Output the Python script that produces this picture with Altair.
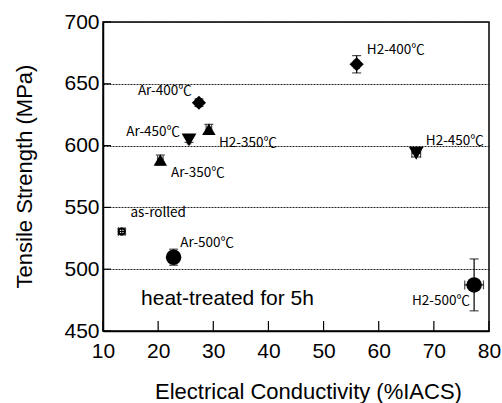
import altair as alt
import pandas as pd

# ---- data ----
labels = ["as-rolled", "Ar-350℃", "Ar-400℃", "Ar-450℃", "Ar-500℃",
          "H2-350℃", "H2-400℃", "H2-450℃", "H2-500℃"]
treat = ["as-rolled", "350", "400", "450", "500", "350", "400", "450", "500"]
conductivity = [13.4, 20.4, 27.4, 25.6, 22.8, 29.2, 56.0, 66.8, 77.3]
strength = [530.5, 588.4, 634.7, 604.6, 509.7, 613.2, 665.8, 593.8, 487.3]
strength_err = [2.0, 4.0, 3.0, 2.0, 6.5, 4.0, 7.0, 3.0, 21.0]
conductivity_err = [0.6, 0.5, 0.5, 0.3, 0.5, 0.5, 0.5, 0.8, 1.7]

# label anchor points (data coordinates)
label_x = [20.0, 27.2, 21.2, 19.1, 28.9, 36.3, 63.1, 73.8, 71.3]
label_y = [545.5, 577.6, 644.2, 611.3, 521.5, 602.0, 677.4, 604.0, 474.5]

x_ticks = [10, 20, 30, 40, 50, 60, 70, 80]
y_ticks = [450, 500, 550, 600, 650, 700]

note_text = ["heat-treated for 5h"]
note_x = [16.9]
note_y = [476.0]

df = pd.DataFrame({
    "label": labels, "treat": treat, "ec": conductivity, "ts": strength,
    "ts_err": strength_err, "ec_err": conductivity_err,
    "lx": label_x, "ly": label_y,
})
df["ts_lo"] = df["ts"] - df["ts_err"]
df["ts_hi"] = df["ts"] + df["ts_err"]
df["ec_lo"] = df["ec"] - df["ec_err"]
df["ec_hi"] = df["ec"] + df["ec_err"]

xs = alt.Scale(domain=[10, 80], nice=False, zero=False)
ys = alt.Scale(domain=[450, 700], nice=False, zero=False)

W, H = 386, 309

base = alt.Chart(df)

x_axis = alt.Axis(values=x_ticks, ticks=False, labelPadding=9, labelFontSize=21,
                  labelFont="Liberation Sans", labelColor="black", grid=False,
                  domainColor="black", domainWidth=1.5,
                  title="Electrical Conductivity (%IACS)", titleFontSize=22,
                  titleFont="Liberation Sans", titleFontWeight="normal",
                  titleColor="black", titleX=205, titleY=60,
                  titleAlign="center", titleBaseline="middle",
                  labelFlush=False, labelOverlap=False)
y_axis = alt.Axis(values=y_ticks, ticks=False, labelPadding=4, labelFontSize=21,
                  labelFont="Liberation Sans", labelColor="black",
                  grid=True, gridDash=[2, 1], gridColor="#222", gridWidth=1,
                  domainColor="black", domainWidth=1.5,
                  title="Tensile Strength (MPa)", titleFontSize=22,
                  titleFont="Liberation Sans", titleFontWeight="normal",
                  titleColor="black", titleX=-79, titleY=154,
                  titleAngle=-90, titleAlign="center", titleBaseline="middle",
                  labelFlush=False, labelOverlap=False)

# error bars
v_err = base.mark_rule(color="black", strokeWidth=1.2).encode(
    x=alt.X("ec:Q", scale=xs, axis=x_axis),
    y=alt.Y("ts_lo:Q", scale=ys, axis=y_axis),
    y2="ts_hi:Q",
)
h_err = base.mark_rule(color="black", strokeWidth=1.2).encode(
    x=alt.X("ec_lo:Q", scale=xs), x2="ec_hi:Q",
    y=alt.Y("ts:Q", scale=ys),
)
cap_lo = base.mark_tick(color="black", orient="horizontal", size=9, thickness=1.2).encode(
    x=alt.X("ec:Q", scale=xs), y=alt.Y("ts_lo:Q", scale=ys))
cap_hi = base.mark_tick(color="black", orient="horizontal", size=9, thickness=1.2).encode(
    x=alt.X("ec:Q", scale=xs), y=alt.Y("ts_hi:Q", scale=ys))
cap_l = base.mark_tick(color="black", orient="vertical", size=9, thickness=1.2).encode(
    x=alt.X("ec_lo:Q", scale=xs), y=alt.Y("ts:Q", scale=ys))
cap_r = base.mark_tick(color="black", orient="vertical", size=9, thickness=1.2).encode(
    x=alt.X("ec_hi:Q", scale=xs), y=alt.Y("ts:Q", scale=ys))

shape_scale = alt.Scale(domain=["350", "400", "450", "500"],
                        range=["triangle-up", "diamond", "triangle-down", "circle"])
size_scale = alt.Scale(domain=["350", "400", "450", "500"],
                       range=[180, 240, 190, 160])

points = base.transform_filter(alt.datum.treat != "as-rolled").mark_point(
    filled=True, color="black", opacity=1).encode(
    x=alt.X("ec:Q", scale=xs), y=alt.Y("ts:Q", scale=ys),
    shape=alt.Shape("treat:N", scale=shape_scale, legend=None),
    size=alt.Size("treat:N", scale=size_scale, legend=None),
)
rolled = base.transform_filter(alt.datum.treat == "as-rolled").mark_point(
    filled=False, color="black", strokeWidth=2, size=40, shape="circle", opacity=1).encode(
    x=alt.X("ec:Q", scale=xs), y=alt.Y("ts:Q", scale=ys))

texts = base.mark_text(font="Noto Sans CJK JP", fontSize=13.5, color="black",
                       align="center", baseline="middle").encode(
    x=alt.X("lx:Q", scale=xs), y=alt.Y("ly:Q", scale=ys), text="label:N")

note = alt.Chart(pd.DataFrame({"t": note_text, "x": note_x, "y": note_y})).mark_text(
    font="Liberation Sans", fontSize=21, color="black", align="left",
    baseline="middle").encode(
    x=alt.X("x:Q", scale=xs), y=alt.Y("y:Q", scale=ys), text="t:N")

# inward ticks
xt = alt.Chart(pd.DataFrame({"v": x_ticks})).mark_rule(color="black", strokeWidth=1.2).encode(
    x=alt.X("v:Q", scale=xs), y=alt.value(H - 10), y2=alt.value(H))
yt = alt.Chart(pd.DataFrame({"v": y_ticks})).mark_rule(color="black", strokeWidth=1.2).encode(
    y=alt.Y("v:Q", scale=ys), x=alt.value(0), x2=alt.value(8))

chart = alt.layer(v_err, h_err, cap_lo, cap_hi, cap_l, cap_r, points, rolled,
                  texts, note, xt, yt).properties(
    width=W, height=H,
    autosize=alt.AutoSizeParams(type="none"),
    padding={"left": 103, "top": 22, "right": 13, "bottom": 72},
    background="white",
).configure_view(stroke="black", strokeWidth=1.5)

chart.save("out.html", embed_options={"renderer": "svg", "actions": False})
